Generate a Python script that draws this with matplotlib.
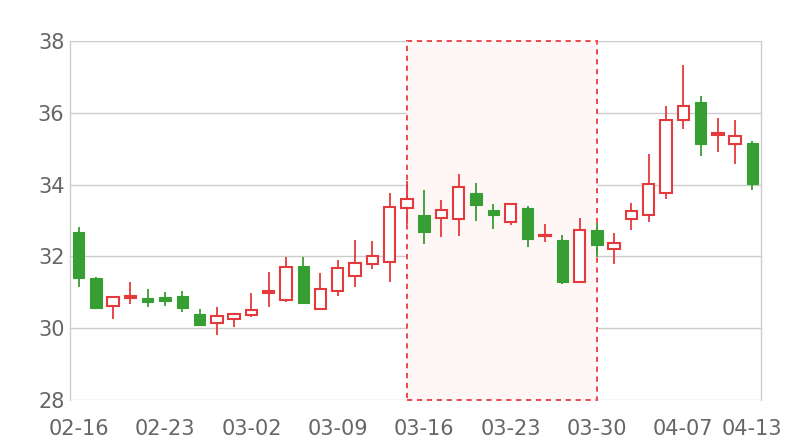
import matplotlib
matplotlib.use("Agg")
import matplotlib.pyplot as plt
from matplotlib.patches import Rectangle

dates = ["02-16", "02-17", "02-18", "02-19", "02-20",
         "02-23", "02-24", "02-25", "02-26", "02-27",
         "03-02", "03-03", "03-04", "03-05", "03-06",
         "03-09", "03-10", "03-11", "03-12", "03-13",
         "03-16", "03-17", "03-18", "03-19", "03-20",
         "03-23", "03-24", "03-25", "03-26", "03-27",
         "03-30", "03-31", "04-01", "04-02", "04-03",
         "04-07", "04-08", "04-09", "04-10", "04-13"]
opens = [32.69, 31.39, 30.62, 30.85, 30.83, 30.88, 30.90, 30.39, 30.14, 30.25,
         30.38, 30.98, 30.79, 31.72, 30.53, 31.05, 31.45, 31.80, 31.84, 33.36,
         33.15, 33.07, 33.03, 33.77, 33.29, 32.95, 33.36, 32.56, 32.47, 31.30,
         32.74, 32.21, 33.03, 33.15, 33.77, 35.80, 36.30, 35.38, 35.14, 35.15]
closes = [31.39, 30.55, 30.88, 30.90, 30.74, 30.76, 30.56, 30.10, 30.35, 30.40,
          30.51, 31.03, 31.71, 30.69, 31.08, 31.67, 31.82, 32.02, 33.38, 33.60,
          32.69, 33.28, 33.93, 33.44, 33.15, 33.47, 32.49, 32.61, 31.30, 32.73,
          32.32, 32.36, 33.26, 34.03, 35.79, 36.19, 35.13, 35.43, 35.35, 34.03]
lows = [31.14, 30.55, 30.27, 30.67, 30.60, 30.62, 30.44, 30.06, 29.80, 30.02,
        30.30, 30.60, 30.72, 30.69, 30.53, 30.91, 31.14, 31.65, 31.28, 32.89,
        32.35, 32.54, 32.56, 33.00, 32.77, 32.87, 32.26, 32.39, 31.22, 31.27,
        31.99, 31.79, 32.73, 32.97, 33.59, 35.55, 34.81, 34.90, 34.57, 33.86]
highs = [32.83, 31.43, 30.88, 31.28, 31.10, 31.00, 31.03, 30.53, 30.60, 30.43,
         30.99, 31.56, 31.98, 31.98, 31.55, 31.91, 32.46, 32.44, 33.77, 34.09,
         33.86, 33.56, 34.29, 34.04, 33.47, 33.47, 33.40, 32.91, 32.61, 33.06,
         32.92, 32.66, 33.50, 34.86, 36.18, 37.32, 36.47, 35.86, 35.80, 35.21]
area_start = "03-13"
area_end = "03-30"
tick_labels = ["02-16", "02-23", "03-02", "03-09", "03-16", "03-23", "03-30", "04-07", "04-13"]

UP = "#e5393b"
DOWN = "#379e33"
TXT = "#666666"

fig = plt.figure(figsize=(8, 4.4), dpi=100)
ax = fig.add_axes([70/800, 1-400/440, (761-70)/800, (400-41)/440])

n = len(dates)
ax.set_xlim(-0.5, n - 0.5)
ax.set_ylim(28, 38)
ax.set_yticks([28, 30, 32, 34, 36, 38])
ax.grid(axis="y", color="#cccccc", linewidth=1, zorder=0)
ax.set_axisbelow(True)
for s in ["top", "bottom"]:
    ax.spines[s].set_visible(False)
for s in ["left", "right"]:
    ax.spines[s].set_color("#cccccc")
    ax.spines[s].set_linewidth(1)

# mark area
i0 = dates.index(area_start)
i1 = dates.index(area_end)
ax.add_patch(Rectangle((i0, 28), i1 - i0, 10, facecolor="#fff6f6", edgecolor="none", zorder=1))
ax.add_patch(Rectangle((i0, 28), i1 - i0, 10, facecolor="none", edgecolor="#ea4a4d",
                       linewidth=1.4, linestyle=(0, (2.7, 2.4)), zorder=1.5, clip_on=False))

w = 0.66
for i in range(n):
    o, c, lo, hi = opens[i], closes[i], lows[i], highs[i]
    up = c >= o
    col = UP if up else DOWN
    ax.vlines(i, lo, hi, color=col, linewidth=1.3, zorder=3)
    bottom = min(o, c)
    h = max(abs(c - o), 0.02)
    if up:
        ax.bar(i, h, bottom=bottom, width=w, facecolor="white", edgecolor=col,
               linewidth=1.5, zorder=4)
    else:
        ax.bar(i, h, bottom=bottom, width=w, facecolor=col, edgecolor=col,
               linewidth=0.8, zorder=4)

tick_idx = [dates.index(t) for t in tick_labels]
ax.set_xticks(tick_idx)
ax.set_xticklabels(tick_labels)
ax.tick_params(axis="both", length=0, labelsize=15, labelcolor=TXT)
ax.tick_params(axis="x", pad=14)
ax.tick_params(axis="y", pad=4)

fig.savefig("out.png", dpi=100)
